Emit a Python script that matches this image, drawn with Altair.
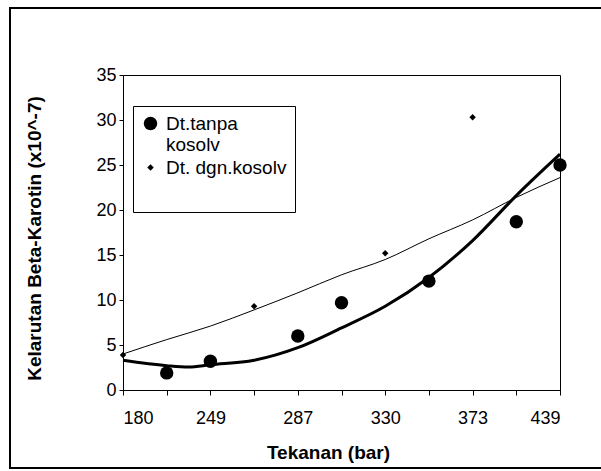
import json
import altair as alt
import pandas as pd

# ---- data ----
tick_labels = ["180", "", "249", "", "287", "", "330", "", "373", "", "439"]
series_names = ["Dt.tanpa kosolv", "Dt. dgn.kosolv"]

tanpa_idx = [1, 2, 4, 5, 7, 9, 10]
tanpa_val = [1.9, 3.2, 6.0, 9.7, 12.1, 18.7, 25.0]

dgn_idx = [0, 3, 6, 8]
dgn_val = [3.9, 9.3, 15.2, 30.3]

tanpa_trend_idx = [0, 1, 1.5, 2, 3, 4, 5, 6, 7, 8, 9, 10]
tanpa_trend_val = [3.3, 2.7, 2.55, 2.8, 3.3, 4.7, 6.9, 9.3, 12.5, 16.6, 21.6, 26.2]

dgn_trend_idx = [0, 1, 2, 3, 4, 5, 6, 7, 8, 9, 10]
dgn_trend_val = [4.0, 5.6, 7.1, 8.9, 10.8, 12.8, 14.5, 16.8, 18.9, 21.4, 23.6]

y_ticks = [0, 5, 10, 15, 20, 25, 30, 35]

FONT = "Liberation Sans"

pts = pd.concat([
    pd.DataFrame({"idx": tanpa_idx, "val": tanpa_val, "series": series_names[0]}),
    pd.DataFrame({"idx": dgn_idx, "val": dgn_val, "series": series_names[1]}),
])
trend_tanpa = pd.DataFrame({"idx": tanpa_trend_idx, "val": tanpa_trend_val})
trend_dgn = pd.DataFrame({"idx": dgn_trend_idx, "val": dgn_trend_val})

x_enc = alt.X(
    "idx:Q",
    scale=alt.Scale(domain=[0, 10], nice=False, zero=False),
    axis=alt.Axis(
        values=list(range(len(tick_labels))),
        labelExpr=f"{json.dumps(tick_labels)}[datum.value]",
        title="Tekanan (bar)",
        titleX=205, titleY=62, titleBaseline="middle", titleAlign="center",
        tickSize=5, labelPadding=14, grid=False,
    ),
)
y_enc = alt.Y(
    "val:Q",
    scale=alt.Scale(domain=[0, 35], nice=False),
    axis=alt.Axis(
        values=y_ticks,
        title="Kelarutan Beta-Karotin (x10^-7)",
        titleX=-89, titleY=163, titleAngle=-90, titleAlign="center", titleBaseline="middle",
        tickSize=4, labelPadding=3, grid=False,
    ),
)

legend_kw = dict(
    title=" ", titleOrient="bottom", titleFontSize=24, titlePadding=2,
    labelExpr="datum.label == 'Dt.tanpa kosolv' ? ['Dt.tanpa', 'kosolv'] : datum.label",
)

line_tanpa = alt.Chart(trend_tanpa).mark_line(
    color="black", strokeWidth=3, interpolate="monotone"
).encode(x=x_enc, y=y_enc)

line_dgn = alt.Chart(trend_dgn).mark_line(
    color="black", strokeWidth=1, interpolate="monotone"
).encode(x=x_enc, y=y_enc)

points = alt.Chart(pts).mark_point(filled=True, color="black", opacity=1).encode(
    x=x_enc,
    y=y_enc,
    shape=alt.Shape("series:N", scale=alt.Scale(domain=series_names, range=["circle", "diamond"]),
                    legend=alt.Legend(**legend_kw)),
    size=alt.Size("series:N", scale=alt.Scale(domain=series_names, range=[180, 42]),
                  legend=alt.Legend(**legend_kw)),
)

frame = alt.Chart(pd.DataFrame({"a": [0]})).mark_rect(
    filled=False, stroke="black", strokeWidth=2, clip=False
).encode(
    x=alt.value(-113), x2=alt.value(500), y=alt.value(-67), y2=alt.value(393)
)

chart = alt.layer(frame, line_dgn, line_tanpa, points).properties(
    width=437, height=315,
    autosize=alt.AutoSizeParams(type="none"),
    padding={"left": 123, "top": 75, "right": 41, "bottom": 81},
    background="white",
).configure_view(
    stroke="black", strokeWidth=1
).configure_axis(
    domainColor="black", tickColor="black", labelColor="black", titleColor="black",
    labelFont=FONT, titleFont=FONT, labelFontSize=18, titleFontSize=19,
    titleFontWeight="bold",
).configure_legend(
    orient="none", legendX=10, legendY=31,
    strokeColor="black", fillColor="white", padding=8,
    labelFont=FONT, labelFontSize=19, labelColor="black",
    titleFont=FONT, rowPadding=3, labelOffset=6, symbolStrokeWidth=0,
)

chart.save("out.html", embed_options={"renderer": "svg", "actions": False})
